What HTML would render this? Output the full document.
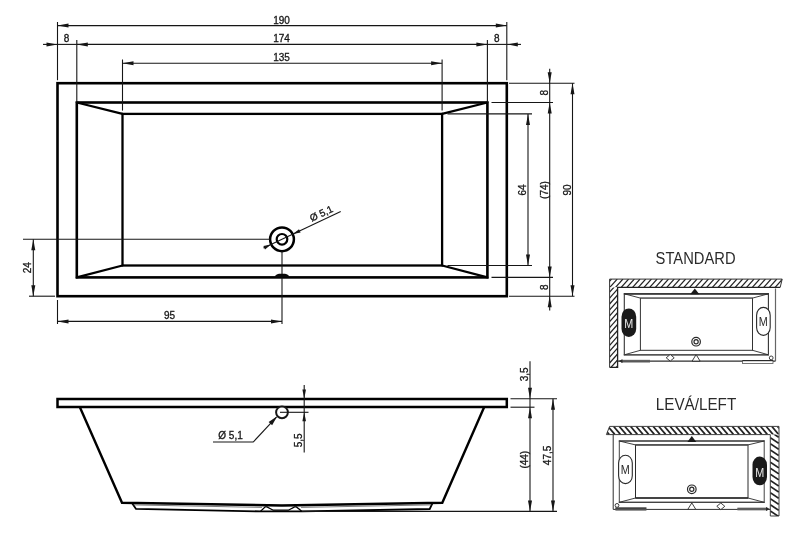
<!DOCTYPE html>
<html><head><meta charset="utf-8"><title>Bathtub drawing</title>
<style>
html,body{margin:0;padding:0;background:#fff;}
body{width:800px;height:538px;overflow:hidden;}
svg{display:block;filter:grayscale(1);font-family:"Liberation Sans",sans-serif;}
</style></head><body>
<svg width="800" height="538" viewBox="0 0 800 538">
<rect width="800" height="538" fill="#fff"/>
<rect x="57.5" y="83.2" width="449.3" height="213.0" fill="none" stroke="#000" stroke-width="2.6"/>
<rect x="76.8" y="102.5" width="410.59999999999997" height="174.89999999999998" fill="none" stroke="#000" stroke-width="2.6"/>
<rect x="122.5" y="113.9" width="319.6" height="151.6" fill="none" stroke="#000" stroke-width="2.3"/>
<line x1="76.8" y1="102.5" x2="122.5" y2="113.9" stroke="#000" stroke-width="2.2" stroke-linecap="round"/>
<line x1="487.4" y1="102.5" x2="442.1" y2="113.9" stroke="#000" stroke-width="2.2" stroke-linecap="round"/>
<line x1="76.8" y1="277.4" x2="122.5" y2="265.5" stroke="#000" stroke-width="2.2" stroke-linecap="round"/>
<line x1="487.4" y1="277.4" x2="442.1" y2="265.5" stroke="#000" stroke-width="2.2" stroke-linecap="round"/>
<line x1="57.5" y1="22" x2="57.5" y2="80.2" stroke="#161616" stroke-width="1.1" />
<line x1="506.8" y1="22" x2="506.8" y2="80.2" stroke="#161616" stroke-width="1.1" />
<line x1="57.5" y1="25.6" x2="506.8" y2="25.6" stroke="#161616" stroke-width="1.1" />
<polygon points="57.50,25.60 68.50,23.60 68.50,27.60" fill="#161616"/>
<polygon points="506.80,25.60 495.80,27.60 495.80,23.60" fill="#161616"/>
<text x="281.5" y="23.8" font-size="10" text-anchor="middle" fill="#161616" stroke="#161616" stroke-width="0.3" >190</text>
<line x1="76.8" y1="40" x2="76.8" y2="102.5" stroke="#161616" stroke-width="1.1" />
<line x1="487.4" y1="40" x2="487.4" y2="102.5" stroke="#161616" stroke-width="1.1" />
<line x1="43" y1="44.4" x2="57.5" y2="44.4" stroke="#161616" stroke-width="1.1" />
<line x1="76.8" y1="44.4" x2="487.4" y2="44.4" stroke="#161616" stroke-width="1.1" />
<line x1="506.8" y1="44.4" x2="521" y2="44.4" stroke="#161616" stroke-width="1.1" />
<polygon points="57.50,44.40 46.50,46.40 46.50,42.40" fill="#161616"/>
<polygon points="76.80,44.40 87.80,42.40 87.80,46.40" fill="#161616"/>
<polygon points="487.40,44.40 476.40,46.40 476.40,42.40" fill="#161616"/>
<polygon points="506.80,44.40 517.80,42.40 517.80,46.40" fill="#161616"/>
<line x1="57.5" y1="44.4" x2="76.8" y2="44.4" stroke="#161616" stroke-width="1.1" />
<line x1="487.4" y1="44.4" x2="506.8" y2="44.4" stroke="#161616" stroke-width="1.1" />
<text x="66.6" y="41.9" font-size="10" text-anchor="middle" fill="#161616" stroke="#161616" stroke-width="0.3" >8</text>
<text x="496.8" y="41.9" font-size="10" text-anchor="middle" fill="#161616" stroke="#161616" stroke-width="0.3" >8</text>
<text x="281.5" y="41.9" font-size="10" text-anchor="middle" fill="#161616" stroke="#161616" stroke-width="0.3" >174</text>
<line x1="122.5" y1="59.5" x2="122.5" y2="110.6" stroke="#161616" stroke-width="1.1" />
<line x1="442.1" y1="59.5" x2="442.1" y2="110.6" stroke="#161616" stroke-width="1.1" />
<line x1="122.5" y1="63.3" x2="442.1" y2="63.3" stroke="#161616" stroke-width="1.1" />
<polygon points="122.50,63.30 133.50,61.30 133.50,65.30" fill="#161616"/>
<polygon points="442.10,63.30 431.10,65.30 431.10,61.30" fill="#161616"/>
<text x="281.5" y="61" font-size="10" text-anchor="middle" fill="#161616" stroke="#161616" stroke-width="0.3" >135</text>
<line x1="509" y1="83.2" x2="574.5" y2="83.2" stroke="#161616" stroke-width="1.1" />
<line x1="491.5" y1="102.5" x2="553" y2="102.5" stroke="#161616" stroke-width="1.1" />
<line x1="447.5" y1="113.9" x2="532" y2="113.9" stroke="#161616" stroke-width="1.1" />
<line x1="447.5" y1="265.5" x2="532" y2="265.5" stroke="#161616" stroke-width="1.1" />
<line x1="491.5" y1="277.4" x2="553" y2="277.4" stroke="#161616" stroke-width="1.1" />
<line x1="509" y1="296.2" x2="574.5" y2="296.2" stroke="#161616" stroke-width="1.1" />
<line x1="528" y1="113.9" x2="528" y2="265.5" stroke="#161616" stroke-width="1.1" />
<polygon points="528.00,113.90 530.00,124.90 526.00,124.90" fill="#161616"/>
<polygon points="528.00,265.50 526.00,254.50 530.00,254.50" fill="#161616"/>
<line x1="549.7" y1="68.8" x2="549.7" y2="310.5" stroke="#161616" stroke-width="1.1" />
<polygon points="549.70,83.20 547.70,72.20 551.70,72.20" fill="#161616"/>
<polygon points="549.70,102.50 551.70,113.50 547.70,113.50" fill="#161616"/>
<polygon points="549.70,277.40 547.70,266.40 551.70,266.40" fill="#161616"/>
<polygon points="549.70,296.20 551.70,307.20 547.70,307.20" fill="#161616"/>
<line x1="572.5" y1="83.2" x2="572.5" y2="296.2" stroke="#161616" stroke-width="1.1" />
<polygon points="572.50,83.20 574.50,94.20 570.50,94.20" fill="#161616"/>
<polygon points="572.50,296.20 570.50,285.20 574.50,285.20" fill="#161616"/>
<text x="526" y="190" font-size="10" text-anchor="middle" fill="#161616" stroke="#161616" stroke-width="0.3" transform="rotate(-90 526 190)" >64</text>
<text x="547.7" y="190" font-size="10" text-anchor="middle" fill="#161616" stroke="#161616" stroke-width="0.3" transform="rotate(-90 547.7 190)" >(74)</text>
<text x="570.5" y="190" font-size="10" text-anchor="middle" fill="#161616" stroke="#161616" stroke-width="0.3" transform="rotate(-90 570.5 190)" >90</text>
<text x="547.7" y="92.6" font-size="10" text-anchor="middle" fill="#161616" stroke="#161616" stroke-width="0.3" transform="rotate(-90 547.7 92.6)" >8</text>
<text x="547.7" y="287.2" font-size="10" text-anchor="middle" fill="#161616" stroke="#161616" stroke-width="0.3" transform="rotate(-90 547.7 287.2)" >8</text>
<circle cx="282" cy="239.3" r="11.9" fill="none" stroke="#000" stroke-width="2.5"/>
<circle cx="282" cy="239.3" r="5.3" fill="none" stroke="#000" stroke-width="2.2"/>
<line x1="263.48" y1="248.09" x2="340.72" y2="211.42" stroke="#161616" stroke-width="1.1" />
<polygon points="293.02,234.07 298.98,229.13 300.61,232.57" fill="#161616"/>
<polygon points="270.98,244.53 265.02,249.47 263.39,246.03" fill="#161616"/>
<text x="322.72" y="216.64" font-size="10" text-anchor="middle" fill="#161616" stroke="#161616" stroke-width="0.3" transform="rotate(-25.4 322.72 216.64)">Ø 5,1</text>
<line x1="23" y1="239.3" x2="270" y2="239.3" stroke="#161616" stroke-width="1.1" />
<line x1="282" y1="251.3" x2="282" y2="324" stroke="#161616" stroke-width="1.1" />
<path d="M274.6,277.6 Q275.2,274.2 279,273.8 L285,273.8 Q288.9,274.2 289.5,277.6 Z" fill="#0a0a0a"/>
<line x1="29" y1="296.2" x2="55" y2="296.2" stroke="#161616" stroke-width="1.1" />
<line x1="33.3" y1="239.3" x2="33.3" y2="296.2" stroke="#161616" stroke-width="1.1" />
<polygon points="33.30,239.30 35.30,250.30 31.30,250.30" fill="#161616"/>
<polygon points="33.30,296.20 31.30,285.20 35.30,285.20" fill="#161616"/>
<text x="31.3" y="267.7" font-size="10" text-anchor="middle" fill="#161616" stroke="#161616" stroke-width="0.3" transform="rotate(-90 31.3 267.7)" >24</text>
<line x1="57.5" y1="300" x2="57.5" y2="324" stroke="#161616" stroke-width="1.1" />
<line x1="57.5" y1="321.4" x2="282" y2="321.4" stroke="#161616" stroke-width="1.1" />
<polygon points="57.50,321.40 68.50,319.40 68.50,323.40" fill="#161616"/>
<polygon points="282.00,321.40 271.00,323.40 271.00,319.40" fill="#161616"/>
<text x="169.5" y="319" font-size="10" text-anchor="middle" fill="#161616" stroke="#161616" stroke-width="0.3" >95</text>
<rect x="57.5" y="399" width="449.3" height="8" fill="#fff" stroke="#000" stroke-width="2.5"/>
<polyline points="79.8,407 122,502.8 282,505.5 442.3,502.8 484.2,407" fill="none" stroke="#000" stroke-width="2.4" stroke-linejoin="miter"/>
<polyline points="132.3,503.4 136,508.9 260.5,511.4 302.5,511.4 429.7,509 432.3,503.6" fill="none" stroke="#000" stroke-width="1.8"/>
<polyline points="260.4,511.4 265.2,506.9 267,506.9 273.2,510.2 288.4,510.2 294.6,506.9 296.4,506.9 302,511.4" fill="none" stroke="#000" stroke-width="1.3"/>
<polyline points="133.5,504.9 262,507.4" fill="none" stroke="#444" stroke-width="0.7"/>
<polyline points="301,507.4 431.5,504.9" fill="none" stroke="#444" stroke-width="0.7"/>
<line x1="302" y1="511.4" x2="557" y2="511.4" stroke="#161616" stroke-width="1.1" />
<circle cx="282" cy="412.3" r="5.9" fill="#fff" stroke="#161616" stroke-width="2"/>
<line x1="280" y1="412.3" x2="308.5" y2="412.3" stroke="#161616" stroke-width="1.1" />
<line x1="304.2" y1="385" x2="304.2" y2="452.5" stroke="#161616" stroke-width="1.1" />
<polygon points="304.20,398.40 302.40,389.40 306.00,389.40" fill="#161616"/>
<polygon points="304.20,412.30 306.00,421.30 302.40,421.30" fill="#161616"/>
<text x="302.2" y="440.3" font-size="10" text-anchor="middle" fill="#161616" stroke="#161616" stroke-width="0.3" transform="rotate(-90 302.2 440.3)" >5,5</text>
<line x1="213" y1="442" x2="253.2" y2="442" stroke="#161616" stroke-width="1.1" />
<line x1="253.2" y1="442" x2="276.5" y2="417" stroke="#161616" stroke-width="1.1" />
<polygon points="277.20,416.30 272.13,425.25 268.62,421.97" fill="#161616"/>
<text x="230.5" y="439.4" font-size="10" text-anchor="middle" fill="#161616" stroke="#161616" stroke-width="0.3" >Ø 5,1</text>
<line x1="510.5" y1="398.8" x2="557" y2="398.8" stroke="#161616" stroke-width="1.1" />
<line x1="510.5" y1="407.2" x2="534.5" y2="407.2" stroke="#161616" stroke-width="1.1" />
<line x1="530" y1="361.3" x2="530" y2="511.4" stroke="#161616" stroke-width="1.1" />
<polygon points="530.00,398.80 528.00,387.80 532.00,387.80" fill="#161616"/>
<polygon points="530.00,407.20 532.00,418.20 528.00,418.20" fill="#161616"/>
<polygon points="530.00,511.40 528.00,500.40 532.00,500.40" fill="#161616"/>
<line x1="553" y1="398.8" x2="553" y2="511.4" stroke="#161616" stroke-width="1.1" />
<polygon points="553.00,398.80 555.00,409.80 551.00,409.80" fill="#161616"/>
<polygon points="553.00,511.40 551.00,500.40 555.00,500.40" fill="#161616"/>
<text x="528" y="374.3" font-size="10" text-anchor="middle" fill="#161616" stroke="#161616" stroke-width="0.3" transform="rotate(-90 528 374.3)" >3,5</text>
<text x="528" y="459.7" font-size="10" text-anchor="middle" fill="#161616" stroke="#161616" stroke-width="0.3" transform="rotate(-90 528 459.7)" >(44)</text>
<text x="551" y="455.4" font-size="10" text-anchor="middle" fill="#161616" stroke="#161616" stroke-width="0.3" transform="rotate(-90 551 455.4)" >47,5</text>
<text x="695.6" y="263.8" font-size="15.6" text-anchor="middle" fill="#2b2b2b" textLength="80" lengthAdjust="spacingAndGlyphs">STANDARD</text>
<clipPath id="hs1"><polygon points="609.6,279.1 782.2,279.1 780.2,287.3 609.6,287.3"/></clipPath>
<g clip-path="url(#hs1)" stroke="#222" stroke-width="1.25">
<line x1="587.02" y1="287.3" x2="594.40" y2="279.1"/>
<line x1="592.72" y1="287.3" x2="600.10" y2="279.1"/>
<line x1="598.42" y1="287.3" x2="605.80" y2="279.1"/>
<line x1="604.12" y1="287.3" x2="611.50" y2="279.1"/>
<line x1="609.82" y1="287.3" x2="617.20" y2="279.1"/>
<line x1="615.52" y1="287.3" x2="622.90" y2="279.1"/>
<line x1="621.22" y1="287.3" x2="628.60" y2="279.1"/>
<line x1="626.92" y1="287.3" x2="634.30" y2="279.1"/>
<line x1="632.62" y1="287.3" x2="640.00" y2="279.1"/>
<line x1="638.32" y1="287.3" x2="645.70" y2="279.1"/>
<line x1="644.02" y1="287.3" x2="651.40" y2="279.1"/>
<line x1="649.72" y1="287.3" x2="657.10" y2="279.1"/>
<line x1="655.42" y1="287.3" x2="662.80" y2="279.1"/>
<line x1="661.12" y1="287.3" x2="668.50" y2="279.1"/>
<line x1="666.82" y1="287.3" x2="674.20" y2="279.1"/>
<line x1="672.52" y1="287.3" x2="679.90" y2="279.1"/>
<line x1="678.22" y1="287.3" x2="685.60" y2="279.1"/>
<line x1="683.92" y1="287.3" x2="691.30" y2="279.1"/>
<line x1="689.62" y1="287.3" x2="697.00" y2="279.1"/>
<line x1="695.32" y1="287.3" x2="702.70" y2="279.1"/>
<line x1="701.02" y1="287.3" x2="708.40" y2="279.1"/>
<line x1="706.72" y1="287.3" x2="714.10" y2="279.1"/>
<line x1="712.42" y1="287.3" x2="719.80" y2="279.1"/>
<line x1="718.12" y1="287.3" x2="725.50" y2="279.1"/>
<line x1="723.82" y1="287.3" x2="731.20" y2="279.1"/>
<line x1="729.52" y1="287.3" x2="736.90" y2="279.1"/>
<line x1="735.22" y1="287.3" x2="742.60" y2="279.1"/>
<line x1="740.92" y1="287.3" x2="748.30" y2="279.1"/>
<line x1="746.62" y1="287.3" x2="754.00" y2="279.1"/>
<line x1="752.32" y1="287.3" x2="759.70" y2="279.1"/>
<line x1="758.02" y1="287.3" x2="765.40" y2="279.1"/>
<line x1="763.72" y1="287.3" x2="771.10" y2="279.1"/>
<line x1="769.42" y1="287.3" x2="776.80" y2="279.1"/>
<line x1="775.12" y1="287.3" x2="782.50" y2="279.1"/>
<line x1="780.82" y1="287.3" x2="788.20" y2="279.1"/>
<line x1="786.52" y1="287.3" x2="793.90" y2="279.1"/>
<line x1="792.22" y1="287.3" x2="799.60" y2="279.1"/>
</g>
<clipPath id="hs2"><rect x="609.6" y="287.6" width="8.2" height="79.8"/></clipPath>
<g clip-path="url(#hs2)" stroke="#222" stroke-width="1.25">
<line x1="609.6" y1="286.30" x2="617.6" y2="277.30"/>
<line x1="609.6" y1="292.20" x2="617.6" y2="283.20"/>
<line x1="609.6" y1="298.10" x2="617.6" y2="289.10"/>
<line x1="609.6" y1="304.00" x2="617.6" y2="295.00"/>
<line x1="609.6" y1="309.90" x2="617.6" y2="300.90"/>
<line x1="609.6" y1="315.80" x2="617.6" y2="306.80"/>
<line x1="609.6" y1="321.70" x2="617.6" y2="312.70"/>
<line x1="609.6" y1="327.60" x2="617.6" y2="318.60"/>
<line x1="609.6" y1="333.50" x2="617.6" y2="324.50"/>
<line x1="609.6" y1="339.40" x2="617.6" y2="330.40"/>
<line x1="609.6" y1="345.30" x2="617.6" y2="336.30"/>
<line x1="609.6" y1="351.20" x2="617.6" y2="342.20"/>
<line x1="609.6" y1="357.10" x2="617.6" y2="348.10"/>
<line x1="609.6" y1="363.00" x2="617.6" y2="354.00"/>
<line x1="609.6" y1="368.90" x2="617.6" y2="359.90"/>
<line x1="609.6" y1="374.80" x2="617.6" y2="365.80"/>
<line x1="609.6" y1="380.70" x2="617.6" y2="371.70"/>
<line x1="609.6" y1="386.60" x2="617.6" y2="377.60"/>
</g>
<polyline points="609.6,367.4 609.6,279.1 782.2,279.1 780.2,287.3" fill="none" stroke="#333" stroke-width="1"/>
<polyline points="609.6,367.4 617.6,367.4 617.6,287.3 780.2,287.3" fill="none" stroke="#222" stroke-width="1.3"/>
<polyline points="617.8,361.1 775.5,361.1" fill="none" stroke="#2e2e2e" stroke-width="1.1"/>
<polyline points="775.5,361.1 775.5,288.5" fill="none" stroke="#666" stroke-width="1.2"/>
<rect x="624.3" y="293.8" width="144.10000000000002" height="61.0" fill="none" stroke="#333" stroke-width="1.1"/>
<line x1="623.8" y1="293.8" x2="768.9" y2="293.8" stroke="#3a3a3a" stroke-width="1.7"/>
<line x1="623.8" y1="354.8" x2="768.9" y2="354.8" stroke="#555" stroke-width="1.5"/>
<rect x="640.4" y="298.1" width="112.10000000000002" height="52.19999999999999" fill="none" stroke="#333" stroke-width="1"/>
<line x1="640.4" y1="298.1" x2="752.5" y2="298.1" stroke="#666" stroke-width="1.2"/>
<line x1="624.3" y1="293.8" x2="640.4" y2="298.1" stroke="#2a2a2a" stroke-width="0.9"/>
<line x1="768.4" y1="293.8" x2="752.5" y2="298.1" stroke="#2a2a2a" stroke-width="0.9"/>
<line x1="624.3" y1="354.8" x2="640.4" y2="350.3" stroke="#2a2a2a" stroke-width="0.9"/>
<line x1="768.4" y1="354.8" x2="752.5" y2="350.3" stroke="#2a2a2a" stroke-width="0.9"/>
<rect x="621.5" y="308.4" width="14.700000000000045" height="28.600000000000023" rx="7.350000000000023" ry="8.350000000000023" fill="#1a1a1a"/>
<text x="628.75" y="328.4" font-size="12.4" text-anchor="middle" fill="#e8e8e8" textLength="9.0" lengthAdjust="spacingAndGlyphs">M</text>
<rect x="756.6" y="307.4" width="13.599999999999977" height="28.00000000000001" rx="6.799999999999988" ry="7.799999999999988" fill="#fff" stroke="#2a2a2a" stroke-width="1.1"/>
<text x="763.3000000000001" y="325.9" font-size="12.4" text-anchor="middle" fill="#2a2a2a" textLength="9.0" lengthAdjust="spacingAndGlyphs">M</text>
<polygon points="694.8,288.4 699.4,294.3 690.1999999999999,294.3" fill="#1a1a1a"/>
<circle cx="696.1" cy="341.7" r="4.3" fill="#fff" stroke="#2a2a2a" stroke-width="1.2"/>
<circle cx="696.1" cy="341.7" r="2.1" fill="none" stroke="#2a2a2a" stroke-width="1.2"/>
<polygon points="666.2,357.8 670.2,354.5 674.2,357.8 670.2,361.1" fill="#fff" stroke="#2a2a2a" stroke-width="0.9"/>
<polygon points="696.1,354.6 700.1,361.1 692.1,361.1" fill="#fff" stroke="#2a2a2a" stroke-width="0.9"/>
<rect x="621" y="359.8" width="29" height="2.8" fill="#777"/>
<line x1="621" y1="361.1" x2="650" y2="361.1" stroke="#444" stroke-width="1"/>
<polygon points="618.6,361.1 622.5,359.2 622.5,363" fill="#2a2a2a"/>
<rect x="742.6" y="360.6" width="30.4" height="2.8" fill="#fff" stroke="#555" stroke-width="0.8"/>
<line x1="742.6" y1="360.6" x2="773" y2="360.6" stroke="#2a2a2a" stroke-width="1.2"/>
<circle cx="771.2" cy="357.9" r="1.9" fill="#fff" stroke="#2a2a2a" stroke-width="0.9"/>
<text x="696" y="410.1" font-size="15.6" text-anchor="middle" fill="#2b2b2b" textLength="80.5" lengthAdjust="spacingAndGlyphs">LEVÁ/LEFT</text>
<clipPath id="hl1"><polygon points="609.6,426.5 778.7,426.5 778.7,434.4 606.4,434.4"/></clipPath>
<g clip-path="url(#hl1)" stroke="#222" stroke-width="1.7">
<line x1="585.43" y1="426.5" x2="592.15" y2="434.4"/>
<line x1="591.08" y1="426.5" x2="597.80" y2="434.4"/>
<line x1="596.73" y1="426.5" x2="603.45" y2="434.4"/>
<line x1="602.38" y1="426.5" x2="609.10" y2="434.4"/>
<line x1="608.03" y1="426.5" x2="614.75" y2="434.4"/>
<line x1="613.68" y1="426.5" x2="620.40" y2="434.4"/>
<line x1="619.33" y1="426.5" x2="626.05" y2="434.4"/>
<line x1="624.98" y1="426.5" x2="631.70" y2="434.4"/>
<line x1="630.63" y1="426.5" x2="637.35" y2="434.4"/>
<line x1="636.28" y1="426.5" x2="643.00" y2="434.4"/>
<line x1="641.93" y1="426.5" x2="648.65" y2="434.4"/>
<line x1="647.58" y1="426.5" x2="654.30" y2="434.4"/>
<line x1="653.23" y1="426.5" x2="659.95" y2="434.4"/>
<line x1="658.88" y1="426.5" x2="665.60" y2="434.4"/>
<line x1="664.53" y1="426.5" x2="671.25" y2="434.4"/>
<line x1="670.18" y1="426.5" x2="676.90" y2="434.4"/>
<line x1="675.83" y1="426.5" x2="682.55" y2="434.4"/>
<line x1="681.48" y1="426.5" x2="688.20" y2="434.4"/>
<line x1="687.13" y1="426.5" x2="693.85" y2="434.4"/>
<line x1="692.78" y1="426.5" x2="699.50" y2="434.4"/>
<line x1="698.43" y1="426.5" x2="705.15" y2="434.4"/>
<line x1="704.08" y1="426.5" x2="710.80" y2="434.4"/>
<line x1="709.73" y1="426.5" x2="716.45" y2="434.4"/>
<line x1="715.38" y1="426.5" x2="722.10" y2="434.4"/>
<line x1="721.03" y1="426.5" x2="727.75" y2="434.4"/>
<line x1="726.68" y1="426.5" x2="733.40" y2="434.4"/>
<line x1="732.33" y1="426.5" x2="739.05" y2="434.4"/>
<line x1="737.98" y1="426.5" x2="744.70" y2="434.4"/>
<line x1="743.63" y1="426.5" x2="750.35" y2="434.4"/>
<line x1="749.28" y1="426.5" x2="756.00" y2="434.4"/>
<line x1="754.93" y1="426.5" x2="761.65" y2="434.4"/>
<line x1="760.58" y1="426.5" x2="767.30" y2="434.4"/>
<line x1="766.23" y1="426.5" x2="772.95" y2="434.4"/>
<line x1="771.88" y1="426.5" x2="778.60" y2="434.4"/>
<line x1="777.53" y1="426.5" x2="784.25" y2="434.4"/>
<line x1="783.18" y1="426.5" x2="789.90" y2="434.4"/>
<line x1="788.83" y1="426.5" x2="795.55" y2="434.4"/>
</g>
<clipPath id="hl2"><rect x="770.3" y="434.6" width="8.7" height="81.4"/></clipPath>
<g clip-path="url(#hl2)" stroke="#222" stroke-width="1.7">
<line x1="770.3" y1="431.60" x2="778.7" y2="437.20"/>
<line x1="770.3" y1="437.70" x2="778.7" y2="443.30"/>
<line x1="770.3" y1="443.80" x2="778.7" y2="449.40"/>
<line x1="770.3" y1="449.90" x2="778.7" y2="455.50"/>
<line x1="770.3" y1="456.00" x2="778.7" y2="461.60"/>
<line x1="770.3" y1="462.10" x2="778.7" y2="467.70"/>
<line x1="770.3" y1="468.20" x2="778.7" y2="473.80"/>
<line x1="770.3" y1="474.30" x2="778.7" y2="479.90"/>
<line x1="770.3" y1="480.40" x2="778.7" y2="486.00"/>
<line x1="770.3" y1="486.50" x2="778.7" y2="492.10"/>
<line x1="770.3" y1="492.60" x2="778.7" y2="498.20"/>
<line x1="770.3" y1="498.70" x2="778.7" y2="504.30"/>
<line x1="770.3" y1="504.80" x2="778.7" y2="510.40"/>
<line x1="770.3" y1="510.90" x2="778.7" y2="516.50"/>
<line x1="770.3" y1="517.00" x2="778.7" y2="522.60"/>
<line x1="770.3" y1="523.10" x2="778.7" y2="528.70"/>
</g>
<polyline points="606.4,434.6 609.6,426.4 779,426.4 779,516 770.3,516 770.3,434.6 606.4,434.6" fill="none" stroke="#2a2a2a" stroke-width="0.9"/>
<polyline points="613.2,434.6 613.2,509.4 770.3,509.4" fill="none" stroke="#2e2e2e" stroke-width="1"/>
<rect x="619.3" y="441" width="144.9000000000001" height="61.30000000000001" fill="none" stroke="#444" stroke-width="1"/>
<line x1="618.8" y1="441" x2="764.7" y2="441" stroke="#555" stroke-width="1.5"/>
<line x1="618.8" y1="502.3" x2="764.7" y2="502.3" stroke="#444" stroke-width="1.3"/>
<rect x="635.5" y="444.9" width="112.5" height="53.10000000000002" fill="none" stroke="#2a2a2a" stroke-width="1"/>
<line x1="635.5" y1="444.9" x2="748" y2="444.9" stroke="#555" stroke-width="1.6"/>
<line x1="635.5" y1="498" x2="748" y2="498" stroke="#2a2a2a" stroke-width="1.3"/>
<line x1="619.3" y1="441" x2="635.5" y2="444.9" stroke="#2a2a2a" stroke-width="0.9"/>
<line x1="764.2" y1="441" x2="748" y2="444.9" stroke="#2a2a2a" stroke-width="0.9"/>
<line x1="619.3" y1="502.3" x2="635.5" y2="498" stroke="#2a2a2a" stroke-width="0.9"/>
<line x1="764.2" y1="502.3" x2="748" y2="498" stroke="#2a2a2a" stroke-width="0.9"/>
<rect x="618.6" y="455.2" width="13.7" height="28.399999999999988" rx="6.85" ry="7.85" fill="#fff" stroke="#2a2a2a" stroke-width="1.1"/>
<text x="625.35" y="473.9" font-size="12.4" text-anchor="middle" fill="#2a2a2a" textLength="9.0" lengthAdjust="spacingAndGlyphs">M</text>
<rect x="752.5" y="456.6" width="14.5" height="28.69999999999999" rx="7.25" ry="8.25" fill="#1a1a1a"/>
<text x="759.65" y="476.65000000000003" font-size="12.4" text-anchor="middle" fill="#e8e8e8" textLength="9.0" lengthAdjust="spacingAndGlyphs">M</text>
<polygon points="691.8,436 696.3,441.9 687.3,441.9" fill="#1a1a1a"/>
<circle cx="691.8" cy="489.3" r="4.3" fill="#fff" stroke="#2a2a2a" stroke-width="1.2"/>
<circle cx="691.8" cy="489.3" r="2.1" fill="none" stroke="#2a2a2a" stroke-width="1.2"/>
<polygon points="691.8,502.9 695.8,509.4 687.8,509.4" fill="#fff" stroke="#2a2a2a" stroke-width="0.9"/>
<polygon points="716.8,506.3 720.8,503.0 724.8,506.3 720.8,509.6" fill="#fff" stroke="#2a2a2a" stroke-width="0.9"/>
<rect x="615.4" y="507.6" width="31" height="3" fill="#555"/>
<line x1="615.4" y1="508" x2="646.4" y2="508" stroke="#333" stroke-width="1"/>
<circle cx="617" cy="505.4" r="1.9" fill="#fff" stroke="#2a2a2a" stroke-width="0.9"/>
<rect x="737.4" y="507.6" width="30" height="2.8" fill="#777"/>
<line x1="737.4" y1="509" x2="767.4" y2="509" stroke="#444" stroke-width="1"/>
<polygon points="769.8,509 766,507.1 766,510.9" fill="#2a2a2a"/>
</svg>
</body></html>
